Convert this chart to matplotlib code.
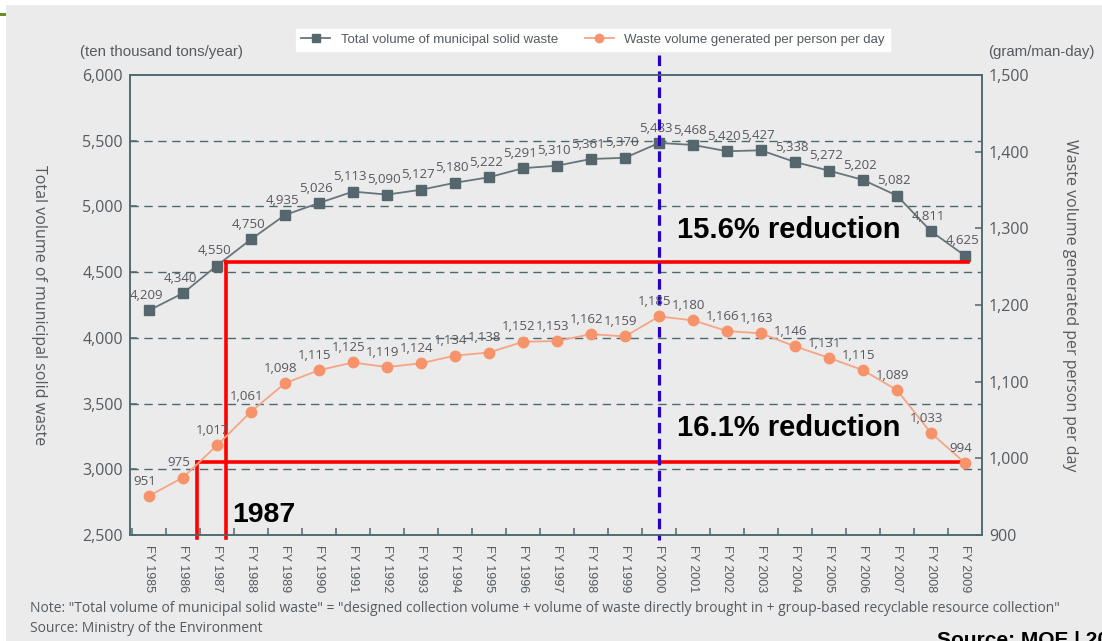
import matplotlib
matplotlib.use("Agg")
import matplotlib.pyplot as plt
import matplotlib.patches as patches
from matplotlib.ticker import FuncFormatter, FixedLocator

years = [f"FY {y}" for y in range(1985, 2010)]
total_waste = [4209, 4340, 4550, 4750, 4935, 5026, 5113, 5090, 5127, 5180, 5222, 5291, 5310,
               5361, 5370, 5483, 5468, 5420, 5427, 5338, 5272, 5202, 5082, 4811, 4625]
per_person = [951, 975, 1017, 1061, 1098, 1115, 1125, 1119, 1124, 1134, 1138, 1152, 1153,
              1162, 1159, 1185, 1180, 1166, 1163, 1146, 1131, 1115, 1089, 1033, 994]

BG = "#ebebeb"
AXC = "#4d6870"
GRAY = "#66767c"
GRAY_M = "#56666d"
ORANGE = "#f5a584"
ORANGE_M = "#f7936b"
LBL = "#5a5560"
TXT = "#555b60"
NARROW = "Liberation Sans"
OPEN = ["Open Sans", "DejaVu Sans"]

fig = plt.figure(figsize=(11.02, 6.41), dpi=100)
fig.patch.set_facecolor("white")
W, H = 1102, 641
fig.patches.append(patches.Rectangle((6 / W, 0), 1, 1 - 5 / H, transform=fig.transFigure,
                                     facecolor=BG, edgecolor="none", zorder=-10))
fig.patches.append(patches.Rectangle((0, 1 - 16 / H), 6 / W, 3 / H, transform=fig.transFigure,
                                     facecolor="#6b8e23", edgecolor="none", zorder=-9))

ax = fig.add_axes([130 / W, 1 - 535 / H, 852 / W, 460 / H])
ax.set_facecolor(BG)
ax2 = ax.twinx()

x = list(range(len(years)))
ax.plot(x, total_waste, color=GRAY, lw=1.3, marker="s", ms=7.5, mfc=GRAY_M, mec=GRAY_M,
        zorder=3, label="Total volume of municipal solid waste")
ax2.plot(x, per_person, color=ORANGE, lw=1.3, marker="o", ms=7.5, mfc=ORANGE_M, mec=ORANGE_M,
         zorder=3, label="Waste volume generated per person per day")

for xi, v in zip(x, total_waste):
    ax.annotate(f"{v:,}", (xi, v), xytext=(-2, 6), textcoords="offset points",
                ha="center", va="bottom", fontsize=9.5, color=LBL, family=OPEN)
for xi, v in zip(x, per_person):
    ax2.annotate(f"{v:,}", (xi, v), xytext=(-3, 6), textcoords="offset points",
                 ha="center", va="bottom", fontsize=9.5, color=LBL, family=OPEN)

ax.set_xlim(-0.56, 24.5)
ax.set_ylim(2500, 6000)
ax2.set_ylim(900, 1500)
ax.set_yticks(range(2500, 6001, 500))
ax2.set_yticks(range(900, 1501, 100))
fmt = FuncFormatter(lambda v, p: f"{int(v):,}")
ax.yaxis.set_major_formatter(fmt)
ax2.yaxis.set_major_formatter(fmt)

ax.set_xticks(x)
ax.set_xticklabels(years, rotation=270, family=NARROW, fontsize=9, color=TXT)
ax.xaxis.set_minor_locator(FixedLocator([i + 0.5 for i in range(-1, 24)]))
ax.tick_params(axis="x", which="major", length=0, pad=7)
ax.tick_params(axis="x", which="minor", direction="in", length=5, color=AXC, width=1.1)
ax.tick_params(axis="y", direction="in", length=5, color=AXC, width=1.1,
               labelsize=11.5, labelcolor=TXT, pad=5)
ax2.tick_params(axis="y", direction="in", length=5, color=AXC, width=1.1,
                labelsize=11.5, labelcolor=TXT, pad=5)
for t in ax.get_yticklabels() + ax2.get_yticklabels():
    t.set_family(OPEN)

for a in (ax, ax2):
    for s in a.spines.values():
        s.set_color(AXC)
        s.set_linewidth(1.1)

for g in range(3000, 6000, 500):
    ax.axhline(g, color=AXC, lw=1.0, ls=(0, (6, 4)), zorder=1)

ax.set_ylabel("Total volume of municipal solid waste", rotation=270, fontsize=11.5,
              color=TXT, family=OPEN, labelpad=37, va="bottom")
ax2.set_ylabel("Waste volume generated per person per day", rotation=270, fontsize=11.5,
               color=TXT, family=OPEN, labelpad=35)

fig.text(80 / W, 1 - 52 / H, "(ten thousand tons/year)", family=NARROW, fontsize=10.8,
         color=TXT, va="center", ha="left")
fig.text(988 / W, 1 - 52 / H, "(gram/man-day)", family=NARROW, fontsize=10.8,
         color=TXT, va="center", ha="left")

h1, l1 = ax.get_legend_handles_labels()
h2, l2 = ax2.get_legend_handles_labels()
leg = fig.legend(h1 + h2, l1 + l2, loc="center", bbox_to_anchor=(593 / W, 1 - 40 / H),
                 ncol=2, frameon=True, fancybox=False, facecolor="white", edgecolor="white",
                 framealpha=1, handlelength=2.2, columnspacing=2.0, borderpad=0.4,
                 prop={"family": NARROW, "size": 9.5})
for t in leg.get_texts():
    t.set_color(TXT)
for lh in leg.legend_handles:
    lh.set_markersize(6)

# highlight lines
RED = "#ff0000"
ax.plot([2.26, 24.1], [4575, 4575], color=RED, lw=2.6, zorder=4, clip_on=False)
ax.plot([1.41, 24.1], [3053, 3053], color=RED, lw=2.6, zorder=4, clip_on=False)
ax.plot([2.26, 2.26], [4575, 2477], color=RED, lw=2.6, zorder=4, clip_on=False)
ax.plot([1.41, 1.41], [3053, 2477], color=RED, lw=2.6, zorder=4, clip_on=False)
ax.plot([15, 15], [6153, 2462], color="#2a00c8", lw=2.3, ls=(0, (3.3, 1.7)), zorder=5,
        clip_on=False)

ax.text(15.53, 4821, "15.6% reduction", fontsize=21, fontweight="bold", family="Liberation Sans",
        va="center", ha="left", zorder=6)
ax.text(15.53, 3314, "16.1% reduction", fontsize=21, fontweight="bold", family="Liberation Sans",
        va="center", ha="left", zorder=6)
ax.text(2.44, 2652, "1987", fontsize=20.5, fontweight="bold", family="Liberation Sans",
        va="center", ha="left", zorder=6)

note = ('Note: "Total volume of municipal solid waste" = "designed collection volume + volume of '
        'waste directly brought in + group-based recyclable resource collection"')
fig.text(30 / W, 1 - 609 / H, note, family=OPEN, fontsize=10, color=TXT, va="center", ha="left")
fig.text(30 / W, 1 - 628 / H, "Source: Ministry of the Environment", family=OPEN, fontsize=10,
         color=TXT, va="center", ha="left")
fig.text(937 / W, 1 - 631 / H, "Source: MOE | 2011", fontsize=15, fontweight="bold",
         family="Liberation Sans", va="top", ha="left")

fig.savefig("out.png", dpi=100, facecolor=fig.get_facecolor())
